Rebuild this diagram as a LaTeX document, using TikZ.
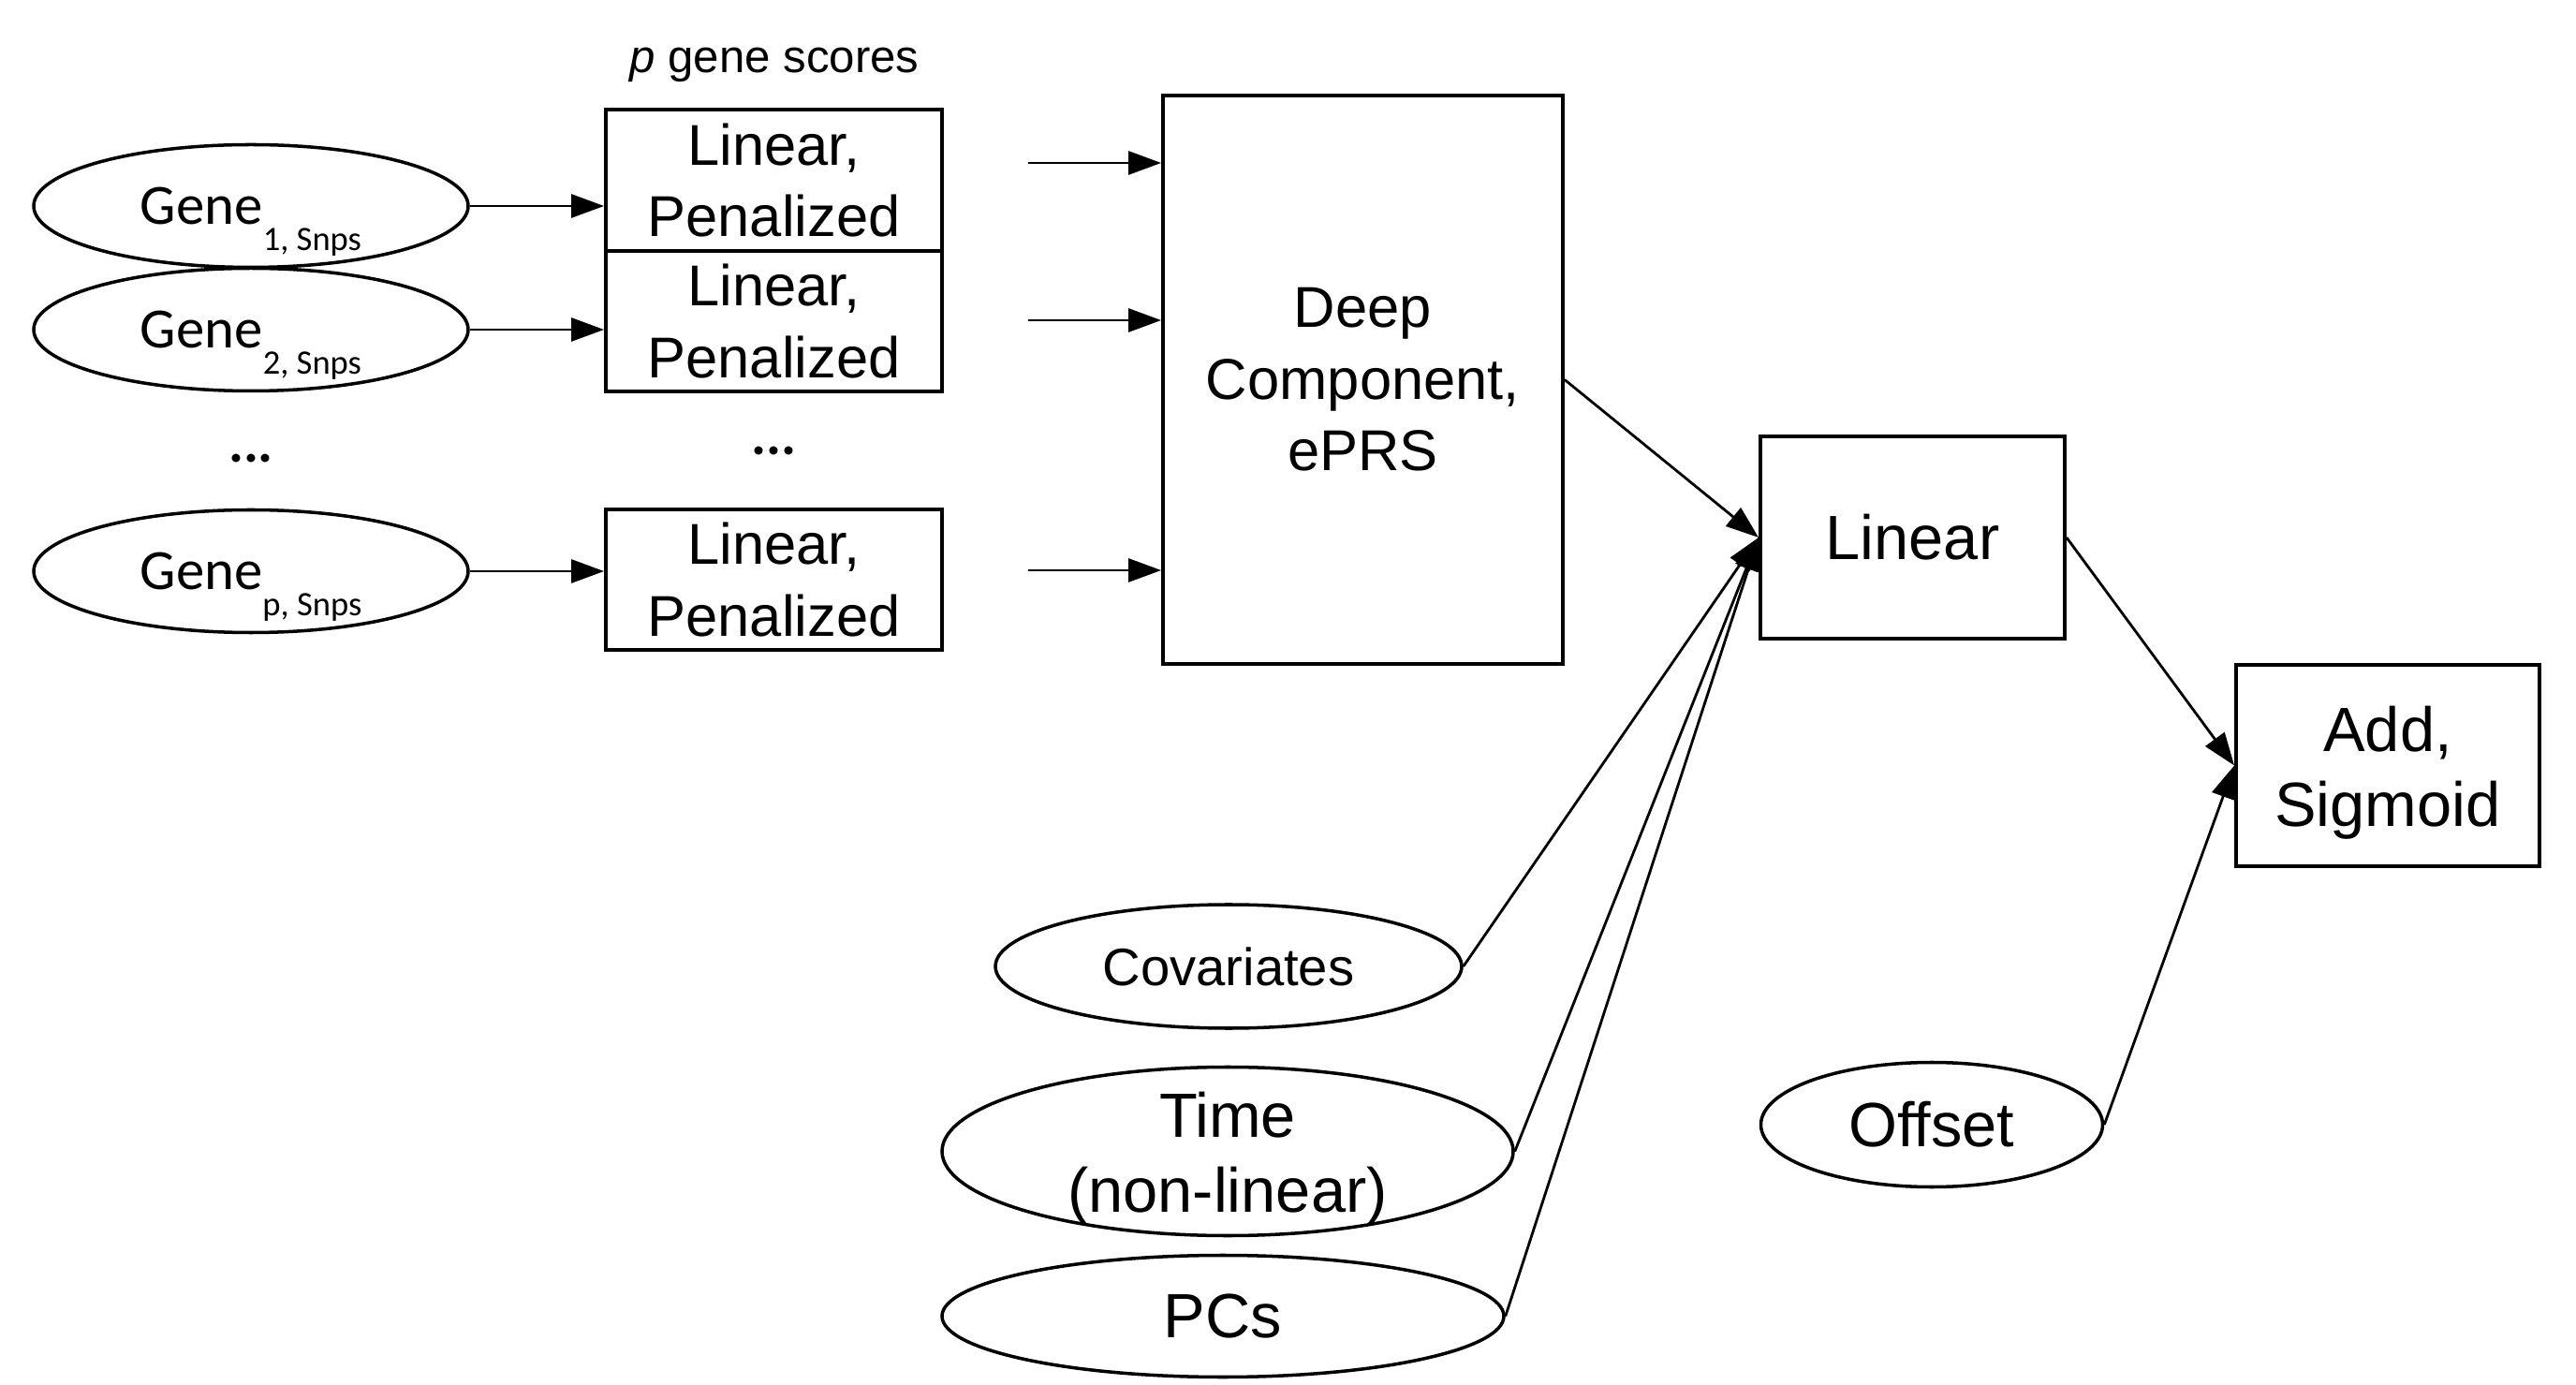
\documentclass[tikz,border=0pt]{standalone}
\usepackage{fontspec}
\setmainfont{Liberation Sans}
\newfontfamily\calfont{Carlito}
\usetikzlibrary{shapes.geometric,arrows.meta}

% lowered subscript of the gene labels
\newcommand{\geneSub}[1]{\raisebox{-0.28cm}[0pt][0pt]{\fontsize{10.4}{12}\selectfont #1}}
% top strut that pushes two-line labels down a little
\newcommand{\topStrut}{\rule{0pt}{0.63cm}}

\begin{document}
\begin{tikzpicture}[
    % Style for the rectangular layers
    layerBox/.style={
        rectangle,
        draw=black,
        line width=1.1pt,
        inner sep=0pt,
        align=center
    },
    % Style for the input ellipses
    inputNode/.style={
        ellipse,
        draw=black,
        line width=1pt,
        inner sep=-0.3cm,
        align=center
    },
    % Style for the arrows
    arrowStyle/.style={
        draw=black,
        line width=0.8pt,
        -{Triangle[length=3.5mm,width=2.5mm]}
    },
    % Fonts
    boxFont/.style={font=\fontsize{17.5}{21.8}\selectfont},
    bigFont/.style={font=\fontsize{19}{22.8}\selectfont},
    geneFont/.style={font=\calfont\fontsize{17.3}{20}\selectfont},
    dotsFont/.style={font=\calfont\bfseries\fontsize{17}{20}\selectfont}
]

    \useasboundingbox (0,0) rectangle (27.51,-14.79);

    % --- GENE INPUTS ---
    \node[inputNode, geneFont, minimum width=4.64cm, minimum height=1.31cm] (gene1) at (2.68,-2.20) {Gene\geneSub{1, Snps}};
    \node[inputNode, geneFont, minimum width=4.64cm, minimum height=1.31cm] (gene2) at (2.68,-3.52) {Gene\geneSub{2, Snps}};
    \node[dotsFont] (geneDots) at (2.68,-4.90) {...};
    \node[inputNode, geneFont, minimum width=4.64cm, minimum height=1.31cm] (geneP) at (2.68,-6.10) {Gene\geneSub{p, Snps}};

    % --- GENE SCORES ---
    \node[font=\fontsize{14}{17}\selectfont, anchor=base] (scoreTitle) at (8.27,-0.78) {\textit{p} gene scores};
    \node[layerBox, boxFont, minimum width=3.59cm, minimum height=1.51cm] (score1) at (8.265,-1.925) {Linear,\\Penalized};
    \node[layerBox, boxFont, minimum width=3.59cm, minimum height=1.50cm] (score2) at (8.265,-3.43) {Linear,\\Penalized};
    \node[dotsFont] (scoreDots) at (8.265,-4.82) {...};
    \node[layerBox, boxFont, minimum width=3.59cm, minimum height=1.50cm] (scoreP) at (8.265,-6.19) {Linear,\\Penalized};

    % --- DEEP COMPONENT ---
    \node[layerBox, boxFont, minimum width=4.27cm, minimum height=6.07cm] (deep) at (14.555,-4.055) {Deep\\Component,\\ePRS};
    \coordinate (deepIn1) at (10.98,-1.74);
    \coordinate (deepIn2) at (10.98,-3.42);
    \coordinate (deepIn3) at (10.98,-6.09);

    % --- OUTPUT LAYERS ---
    \node[layerBox, bigFont, minimum width=3.25cm, minimum height=2.16cm] (linear) at (20.425,-5.74) {Linear};
    \node[layerBox, bigFont, minimum width=3.24cm, minimum height=2.15cm] (add) at (25.50,-8.175) {\topStrut Add,\\Sigmoid};

    % --- OTHER INPUTS ---
    \node[inputNode, font=\fontsize{16}{19}\selectfont, minimum width=4.98cm, minimum height=1.32cm] (covariates) at (13.12,-10.32) {Covariates};
    \node[inputNode, bigFont, minimum width=6.10cm, minimum height=1.80cm] (time) at (13.11,-12.295) {\topStrut Time\\(non-linear)};
    \node[inputNode, bigFont, minimum width=6.00cm, minimum height=1.30cm] (pcs) at (13.06,-14.055) {PCs};
    \node[inputNode, bigFont, minimum width=3.65cm, minimum height=1.33cm] (offset) at (20.63,-12.01) {Offset};

    % --- EDGES ---
    \draw[arrowStyle] (gene1.east) -- (gene1.east -| score1.west);
    \draw[arrowStyle] (gene2.east) -- (gene2.east -| score2.west);
    \draw[arrowStyle] (geneP.east) -- (geneP.east -| scoreP.west);
    \draw[arrowStyle] (deepIn1) -- (deepIn1 -| deep.west);
    \draw[arrowStyle] (deepIn2) -- (deepIn2 -| deep.west);
    \draw[arrowStyle] (deepIn3) -- (deepIn3 -| deep.west);
    \draw[arrowStyle] (deep.east) -- (linear.west);
    \draw[arrowStyle] (covariates.east) -- (linear.west);
    \draw[arrowStyle] (time.east) -- (linear.west);
    \draw[arrowStyle] (pcs.east) -- (linear.west);
    \draw[arrowStyle] (linear.east) -- (add.west);
    \draw[arrowStyle] (offset.east) -- (add.west);

\end{tikzpicture}
\end{document}
